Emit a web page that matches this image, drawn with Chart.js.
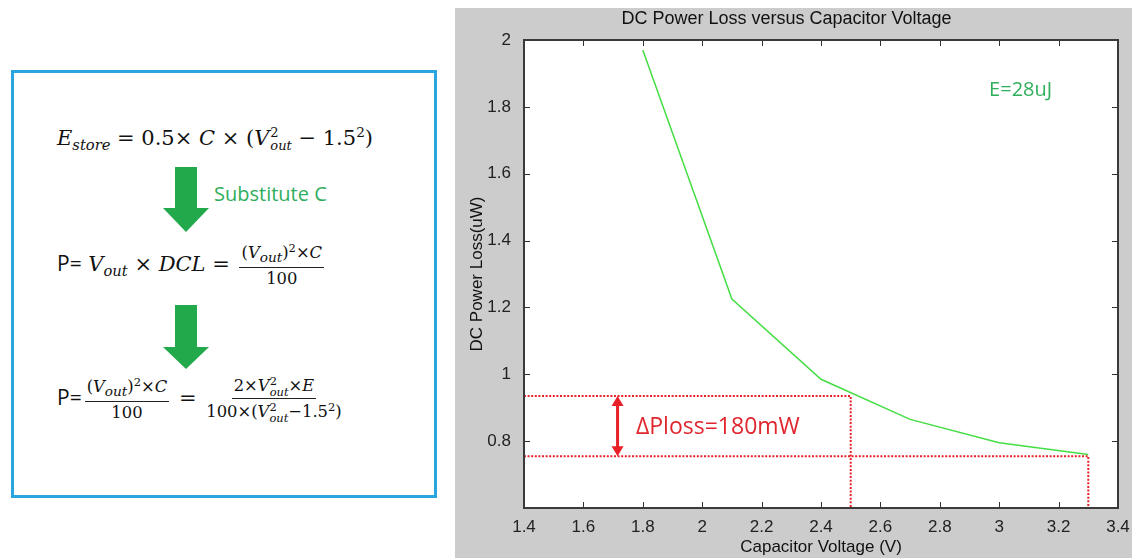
<!DOCTYPE html>
<html>
<head>
<meta charset="utf-8">
<script src="https://cdn.jsdelivr.net/npm/chart.js@4.4.0/dist/chart.umd.min.js"></script>
<style>
  html, body { margin: 0; padding: 0; background: #fff; }
  body { width: 1132px; height: 558px; position: relative; overflow: hidden; }
  .formula-box {
    position: absolute; left: 11px; top: 70px; width: 420px; height: 422px;
    border: 3px solid #29a6de; background: #fff;
  }
  .eq { position: absolute; font-family: "DejaVu Serif", serif; color: #111; white-space: nowrap; }
  .eq i { font-style: italic; }
  .ps { font-family: "Open Sans", sans-serif; font-style: normal; }
  .ss { display: inline-flex; flex-direction: column; vertical-align: middle; font-size: 0.62em; line-height: 0.95; margin-left: 1px; }
  .frac { display: inline-flex; flex-direction: column; align-items: center; vertical-align: middle; font-size: 0.78em; line-height: 1.15; margin: 0 3px; }
  .frac > span:first-child { border-bottom: 1.5px solid #222; padding: 0 2px 1px; }
  .frac > span:last-child { padding-top: 2px; }
  .frac sup { font-size: 0.7em; }
  .small-ss { display: inline-flex; flex-direction: column; vertical-align: middle; font-size: 0.7em; line-height: 0.9; }
  .label-green { position: absolute; font-family: "Open Sans", sans-serif; color: #2fae5c; font-size: 20px; }
  #panel { position: absolute; left: 455px; top: 8px; width: 677px; height: 550px; background: #cccccc; }
</style>
</head>
<body>

<div class="formula-box"></div>

<div class="eq" style="left:57px; top:124px; font-size:21px;">
  <i>E</i><sub style="font-size:0.7em"><i>store</i></sub> = 0.5× <i>C</i> × (<i>V</i><span class="ss"><span>2</span><span><i>out</i></span></span> − 1.5<sup style="font-size:0.65em">2</sup>)
</div>

<div class="label-green" style="left:214px; top:180px;">Substitute C</div>

<div class="eq" style="left:57px; top:242px; font-size:21px;">
  <span class="ps">P=</span> <i>V</i><sub style="font-size:0.7em"><i>out</i></sub> × <i>DCL</i> = <span class="frac"><span>(<i>V<sub>out</sub></i>)<sup>2</sup>×<i>C</i></span><span>100</span></span>
</div>

<div class="eq" style="left:57px; top:376px; font-size:21px;">
  <span class="ps">P=</span><span class="frac"><span>(<i>V<sub>out</sub></i>)<sup>2</sup>×<i>C</i></span><span>100</span></span> = <span class="frac"><span>2×<i>V</i><span class="small-ss"><span>2</span><span><i>out</i></span></span>×<i>E</i></span><span>100×(<i>V</i><span class="small-ss"><span>2</span><span><i>out</i></span></span>−1.5<sup>2</sup>)</span></span>
</div>

<svg style="position:absolute; left:0; top:0;" width="440" height="558">
  <g fill="#21a94c">
    <rect x="175" y="167" width="22" height="42"/>
    <polygon points="163,208 209,208 186,232"/>
    <rect x="175" y="305" width="22" height="43"/>
    <polygon points="163,347 209,347 186,369"/>
  </g>
</svg>

<div id="panel"><canvas id="lossChart" width="677" height="550"></canvas></div>

<script>
// DC power loss against capacitor voltage, E = 28uJ
const voltage = [1.8, 2.1, 2.4, 2.7, 3.0, 3.3];
const powerLoss = [1.97, 1.225, 0.985, 0.865, 0.795, 0.76];

const xTickValues = [1.4, 1.6, 1.8, 2.0, 2.2, 2.4, 2.6, 2.8, 3.0, 3.2, 3.4];
const yTickValues = [0.8, 1.0, 1.2, 1.4, 1.6, 1.8, 2.0];

// operating points used for the loss comparison
const markVoltage = [2.5, 3.3];
const markLoss = [0.935, 0.755];

const X_MIN = 1.4, X_MAX = 3.4, Y_MIN = 0.6, Y_MAX = 2.0;

const FAMILY = '"Liberation Sans", Arial, sans-serif';
const TICK_FONT = { family: FAMILY, size: 17 };
const RED = '#e8202a';

function fmtTick(v) {
    return String(Math.round(v * 10) / 10);
}

// dotted guide from the y axis to the point and down to the x axis
function guide(i) {
    return {
        data: [
            { x: X_MIN, y: markLoss[i] },
            { x: markVoltage[i], y: markLoss[i] },
            { x: markVoltage[i], y: Y_MIN }
        ],
        showLine: true,
        borderColor: RED,
        borderWidth: 2,
        borderDash: [2, 1.6],
        pointRadius: 0,
        tension: 0
    };
}

// MATLAB style box with ticks pointing inward, plus the annotations
const boxPlugin = {
    id: 'boxPlugin',
    beforeDraw(chart) {
        const { ctx, chartArea: a } = chart;
        ctx.save();
        ctx.fillStyle = '#fff';
        ctx.fillRect(a.left, a.top, a.right - a.left, a.bottom - a.top);
        ctx.restore();
    },
    afterDraw(chart) {
        const { ctx, chartArea: a, scales } = chart;
        const xs = scales.x, ys = scales.y;
        ctx.save();
        ctx.strokeStyle = '#333';
        ctx.lineWidth = 1;
        ctx.beginPath();
        xTickValues.forEach(v => {
            const px = Math.round(xs.getPixelForValue(v)) + 0.5;
            ctx.moveTo(px, a.bottom); ctx.lineTo(px, a.bottom - 6);
            ctx.moveTo(px, a.top); ctx.lineTo(px, a.top + 6);
        });
        yTickValues.forEach(v => {
            const py = Math.round(ys.getPixelForValue(v)) + 0.5;
            ctx.moveTo(a.left, py); ctx.lineTo(a.left + 6, py);
            ctx.moveTo(a.right, py); ctx.lineTo(a.right - 6, py);
        });
        ctx.stroke();

        ctx.strokeStyle = '#3a3a3a';
        ctx.lineWidth = 2;
        ctx.strokeRect(a.left, a.top, a.right - a.left, a.bottom - a.top);

        // double arrow spanning the two loss levels
        const ax = xs.getPixelForValue(1.715);
        const yTop = ys.getPixelForValue(markLoss[0]);
        const yBot = ys.getPixelForValue(markLoss[1]);
        ctx.strokeStyle = RED;
        ctx.fillStyle = RED;
        ctx.lineWidth = 3;
        ctx.beginPath();
        ctx.moveTo(ax, yTop + 8);
        ctx.lineTo(ax, yBot - 8);
        ctx.stroke();
        ctx.beginPath();
        ctx.moveTo(ax, yTop); ctx.lineTo(ax - 6, yTop + 10); ctx.lineTo(ax + 6, yTop + 10); ctx.closePath();
        ctx.moveTo(ax, yBot); ctx.lineTo(ax - 6, yBot - 10); ctx.lineTo(ax + 6, yBot - 10); ctx.closePath();
        ctx.fill();

        ctx.font = '23px "Open Sans", sans-serif';
        ctx.textBaseline = 'middle';
        ctx.fillStyle = '#e0262e';
        const dLoss = Math.round((markLoss[0] - markLoss[1]) * 1000);
        ctx.fillText('\u0394Ploss=' + dLoss + 'mW', xs.getPixelForValue(1.777), (yTop + yBot) / 2 + 1);

        ctx.font = '20px "Open Sans", sans-serif';
        ctx.fillStyle = '#2fae5c';
        ctx.fillText('E=28uJ', xs.getPixelForValue(2.966), ys.getPixelForValue(1.85));
        ctx.restore();
    }
};

document.addEventListener('DOMContentLoaded', function() {
    const ctx = document.getElementById('lossChart');
    new Chart(ctx, {
        type: 'scatter',
        data: {
            datasets: [
                {
                    data: voltage.map((v, i) => ({ x: v, y: powerLoss[i] })),
                    showLine: true,
                    borderColor: '#45dd45',
                    borderWidth: 1.5,
                    pointRadius: 0,
                    tension: 0
                },
                guide(0),
                guide(1)
            ]
        },
        options: {
            responsive: false,
            animation: false,
            layout: { padding: { left: 0, right: 14, top: 0, bottom: 0 } },
            plugins: {
                legend: { display: false },
                tooltip: { enabled: false },
                title: {
                    display: true,
                    text: 'DC Power Loss versus Capacitor Voltage',
                    color: '#111',
                    font: { family: FAMILY, size: 18, weight: 'normal' },
                    padding: { top: 0, bottom: 10.4 }
                }
            },
            scales: {
                x: {
                    type: 'linear',
                    min: X_MIN,
                    max: X_MAX,
                    afterBuildTicks: s => { s.ticks = xTickValues.map(v => ({ value: v })); },
                    afterFit: s => { s.height = 50; },
                    grid: { display: false },
                    border: { display: false },
                    ticks: {
                        color: '#222',
                        font: TICK_FONT,
                        padding: 1,
                        maxRotation: 0,
                        callback: fmtTick
                    },
                    title: {
                        display: true,
                        text: 'Capacitor Voltage (V)',
                        color: '#111',
                        font: { family: FAMILY, size: 17 },
                        padding: { top: 0, bottom: 0 }
                    }
                },
                y: {
                    type: 'linear',
                    min: Y_MIN,
                    max: Y_MAX,
                    afterBuildTicks: s => { s.ticks = yTickValues.map(v => ({ value: v })); },
                    afterFit: s => { s.width = 69; },
                    grid: { display: false },
                    border: { display: false },
                    ticks: {
                        color: '#222',
                        font: TICK_FONT,
                        padding: 5,
                        callback: fmtTick
                    },
                    title: {
                        display: true,
                        text: 'DC Power Loss(uW)',
                        color: '#111',
                        font: { family: FAMILY, size: 17 },
                        padding: { top: 12, bottom: 0 }
                    }
                }
            }
        },
        plugins: [boxPlugin]
    });
});
</script>
</body>
</html>
